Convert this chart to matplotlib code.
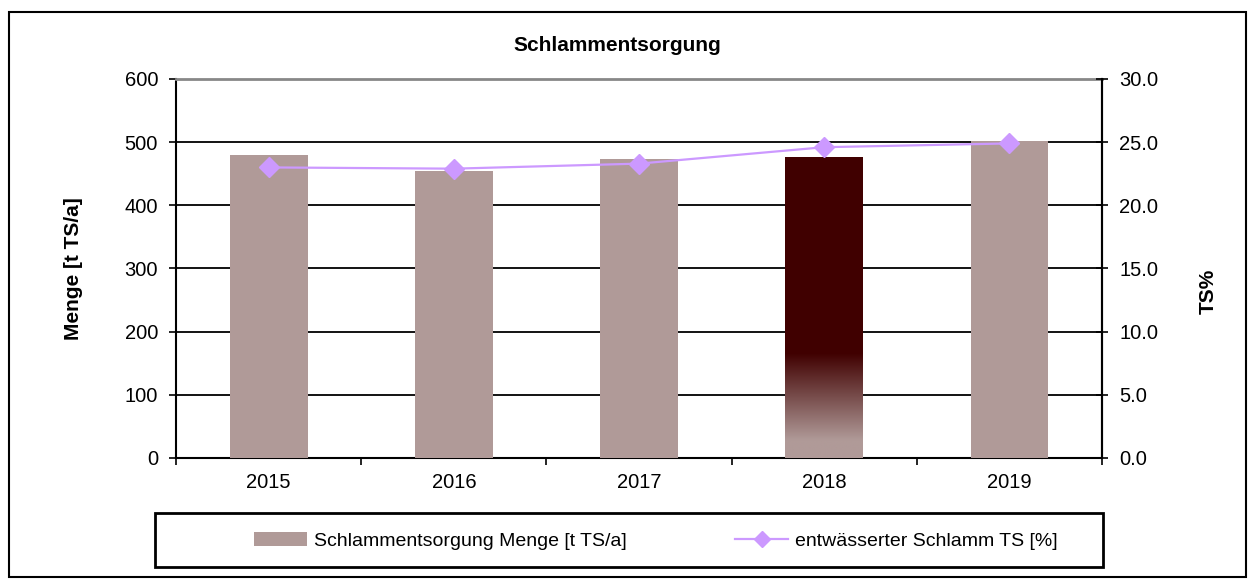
import numpy as np
import matplotlib
matplotlib.use("Agg")
import matplotlib.pyplot as plt
from matplotlib.patches import Rectangle, Patch
from matplotlib.lines import Line2D
from matplotlib.colors import to_rgba

plt.rcParams['font.family'] = ['Liberation Sans', 'DejaVu Sans']

# Data
years = ["2015", "2016", "2017", "2018", "2019"]
menge = [480, 454, 473, 476, 502]          # t TS/a
ts_percent = [23.0, 22.9, 23.3, 24.6, 24.9]  # %

bar_color = "#B09A98"
highlight_color = "#400000"
line_color = "#CC99FF"

fig = plt.figure(figsize=(12.54, 5.82), dpi=100)
ax = fig.add_axes([0.1404, 0.2131, 0.7384, 0.6512])

x = np.arange(len(years))
bar_width = 0.42
colors = [bar_color] * len(years)
colors[3] = highlight_color
bars = ax.bar(x, menge, width=bar_width, color=colors, zorder=3)

# Fade the lower part of the highlighted bar into the base colour
b = bars[3]
fade_top, fade_bottom = 166, 28
n = 256
yy = np.linspace(0, fade_top, n)
t = np.clip((yy - fade_bottom) / (fade_top - fade_bottom), 0, 1)[:, None]
c0 = np.array(to_rgba(bar_color))
c1 = np.array(to_rgba(highlight_color))
grad = (1 - t) * c0 + t * c1
grad = grad[:, None, :]
ax.imshow(grad, extent=[b.get_x(), b.get_x() + b.get_width(), 0, fade_top],
          origin="lower", aspect="auto", zorder=4, interpolation="bilinear")

ax.set_xlim(-0.5, len(years) - 0.5)
ax.set_ylim(0, 600)
ax.set_yticks(np.arange(0, 601, 100))
ax.set_xticks(x)
ax.set_xticklabels(years, fontsize=14.5)
ax.set_xticks(np.arange(-0.5, len(years), 1), minor=True)
ax.tick_params(axis="x", which="major", length=0, pad=11)
ax.tick_params(axis="x", which="minor", length=5, width=1.2, direction="out")
ax.tick_params(axis="y", labelsize=14.5, length=5, width=1.2, direction="out", pad=8)

ax.yaxis.grid(True, color="black", linewidth=1.3, zorder=1)
ax.set_axisbelow(True)
for side in ("left", "bottom", "right"):
    ax.spines[side].set_linewidth(1.5)
    ax.spines[side].set_color("black")
ax.spines["top"].set_color("#888888")
ax.spines["top"].set_linewidth(2)

ax.set_ylabel("Menge [t TS/a]", fontsize=15, fontweight="bold", labelpad=30)

ax2 = ax.twinx()
ax2.plot(x, ts_percent, color=line_color, marker="D", markersize=10,
         linewidth=1.6, zorder=5)
ax2.set_ylim(0, 30)
ax2.set_yticks(np.arange(0, 31, 5))
ax2.set_yticklabels([f"{v:.1f}" for v in np.arange(0, 31, 5)])
ax2.tick_params(axis="y", labelsize=14.5, length=9, width=1.2, direction="inout", pad=8)
ax2.spines["right"].set_linewidth(1.5)
ax2.spines["top"].set_visible(False)
ax2.spines["left"].set_visible(False)
ax2.spines["bottom"].set_visible(False)
ax2.set_ylabel("TS%", fontsize=15, fontweight="bold", labelpad=24)
ax2.yaxis.set_label_coords(1.105, 0.44)

fig.text(0.492, 0.921, "Schlammentsorgung", ha="center", va="center",
         fontsize=15, fontweight="bold")

# Legend box
fig.patches.append(Rectangle((155 / 1254, 1 - 567 / 582), (1103 - 155) / 1254, 54 / 582,
                             transform=fig.transFigure, fill=False,
                             edgecolor="black", linewidth=2))
handles = [Patch(facecolor=bar_color, edgecolor="none"),
           Line2D([], [], color=line_color, marker="D", markersize=8, linewidth=1.6)]
labels = ["Schlammentsorgung Menge [t TS/a]", "entwässerter Schlamm TS [%]"]
fig.legend(handles, labels, loc="center", bbox_to_anchor=(0.523, 0.0705),
           ncol=2, frameon=False, fontsize=14, handlelength=2.7, handleheight=0.75,
           handletextpad=0.35, columnspacing=5.6)

# Outer border
fig.patches.append(Rectangle((9 / 1254, 1 - 577 / 582), (1246 - 9) / 1254, (577 - 12) / 582,
                             transform=fig.transFigure, fill=False,
                             edgecolor="black", linewidth=1.5))

fig.savefig("out.png", dpi=100)
